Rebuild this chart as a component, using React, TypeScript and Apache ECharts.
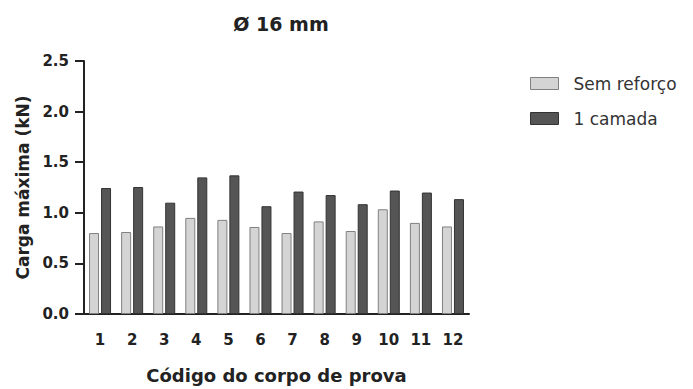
import React, { useEffect, useRef } from "react";
import * as echarts from "echarts";

const categories = ["1", "2", "3", "4", "5", "6", "7", "8", "9", "10", "11", "12"];
const semReforco = [0.8, 0.81, 0.865, 0.95, 0.93, 0.86, 0.8, 0.915, 0.82, 1.035, 0.9, 0.865];
const umaCamada = [1.245, 1.255, 1.1, 1.35, 1.37, 1.065, 1.21, 1.175, 1.085, 1.22, 1.2, 1.135];
const yTicks = [0, 0.5, 1.0, 1.5, 2.0, 2.5];

export default function App() {
  const ref = useRef<HTMLDivElement>(null);
  useEffect(() => {
    if (!ref.current) return;
    const chart = echarts.init(ref.current, undefined, { renderer: "svg" });
    const font = "DejaVu Sans";
    chart.setOption({
      animation: false,
      backgroundColor: "#ffffff",
      title: {
        text: "Ø 16 mm",
        left: 276,
        top: 9,
        textAlign: "center",
        textStyle: { fontFamily: font, fontWeight: "bold", fontSize: 19, color: "#222" },
      },
      legend: {
        orient: "vertical",
        left: 525,
        top: 70,
        itemWidth: 28,
        itemHeight: 12,
        itemGap: 18,
        icon: "rect",
        textStyle: { fontFamily: font, fontSize: 17, color: "#333", padding: [0, 0, 0, 10] },
        data: [
          { name: "Sem reforço", itemStyle: { color: "#d4d4d4", borderColor: "#808080", borderWidth: 1 } },
          { name: "1 camada", itemStyle: { color: "#555555", borderColor: "#333", borderWidth: 1 } },
        ],
      },
      grid: { left: 84, top: 61, width: 385, height: 255 },
      xAxis: {
        type: "category",
        data: categories,
        name: "Código do corpo de prova",
        nameLocation: "middle",
        nameGap: 52,
        nameTextStyle: { fontFamily: font, fontWeight: "bold", fontSize: 18, color: "#222" },
        axisLine: { lineStyle: { color: "#222", width: 2 } },
        axisTick: { alignWithLabel: true, length: 9, lineStyle: { color: "#222", width: 2 } },
        axisLabel: { fontFamily: font, fontWeight: "bold", fontSize: 15, color: "#222", margin: 18 },
      },
      yAxis: {
        type: "value",
        min: 0,
        max: 2.5,
        interval: 0.5,
        name: "Carga máxima (kN)",
        nameLocation: "middle",
        nameGap: 48,
        nameRotate: 90,
        nameTextStyle: { fontFamily: font, fontWeight: "bold", fontSize: 17, color: "#222" },
        axisLine: { show: true, lineStyle: { color: "#222", width: 2 } },
        axisTick: { show: true, length: 9, lineStyle: { color: "#222", width: 2 } },
        splitLine: { show: false },
        axisLabel: {
          fontFamily: font,
          fontWeight: "bold",
          fontSize: 15,
          color: "#222",
          margin: 15,
          formatter: (v: number) => (yTicks.includes(v) ? v.toFixed(1) : ""),
        },
      },
      series: [
        {
          name: "Sem reforço",
          type: "bar",
          data: semReforco,
          barWidth: 10,
          barGap: "20%",
          itemStyle: { color: "#d4d4d4", borderColor: "#808080", borderWidth: 1 },
        },
        {
          name: "1 camada",
          type: "bar",
          data: umaCamada,
          barWidth: 10,
          barGap: "20%",
          itemStyle: { color: "#555555", borderColor: "#333", borderWidth: 1 },
        },
      ],
    });
    return () => chart.dispose();
  }, []);
  return <div ref={ref} style={{ width: 693, height: 389, position: "absolute", left: 0, top: 0 }} />;
}
